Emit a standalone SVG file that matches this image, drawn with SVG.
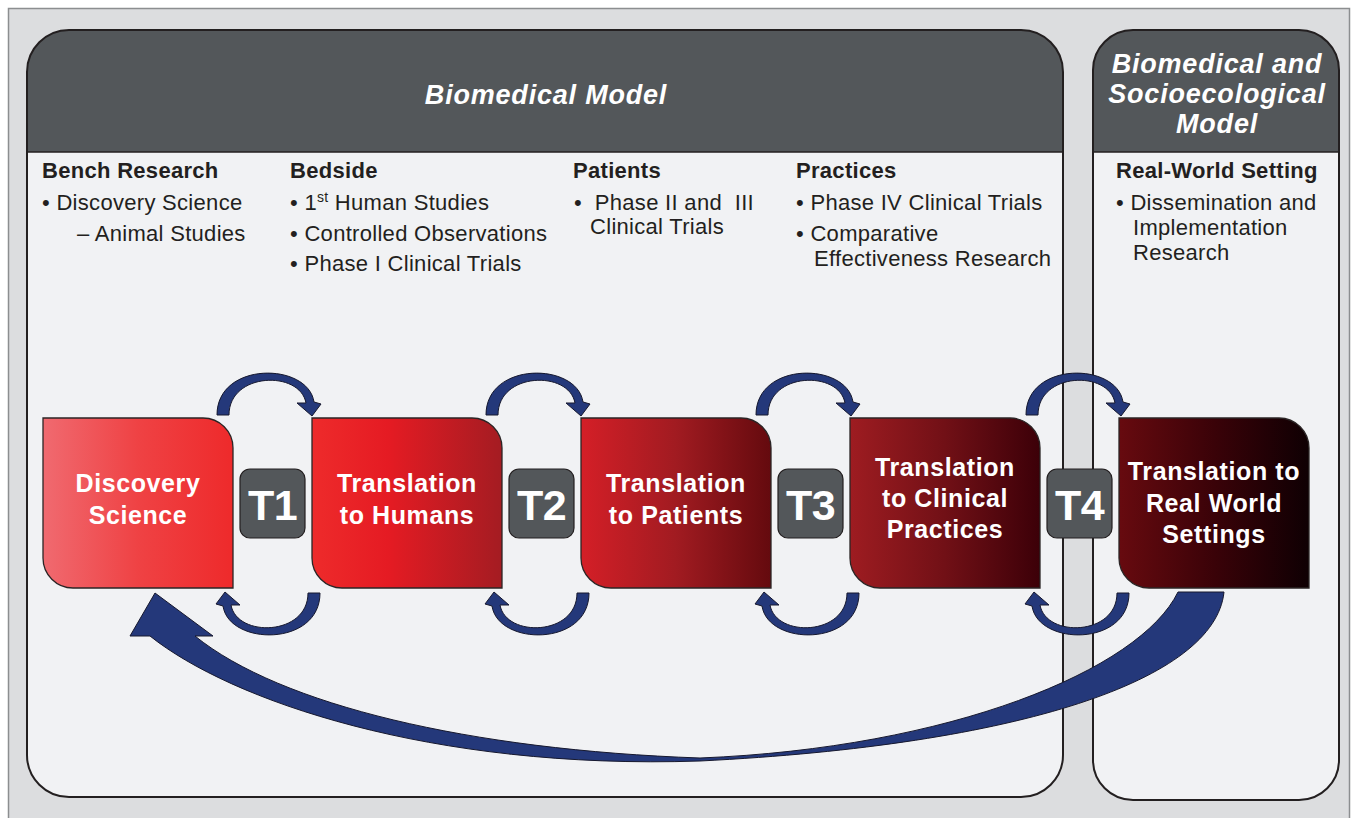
<svg xmlns="http://www.w3.org/2000/svg" width="1353" height="818" viewBox="0 0 1353 818">
  <style>
    .txt { font-family: "Liberation Sans", Arial, Helvetica, sans-serif; fill: #231f20; font-size: 22px; letter-spacing: 0.3px; }
    .head { font-weight: bold; }
    .title { font-family: "Liberation Sans", Arial, Helvetica, sans-serif; fill: #ffffff; font-weight: bold; font-style: italic; font-size: 27px; letter-spacing: 0.8px; text-anchor: middle; }
    .node-label { font-family: "Liberation Sans", Arial, Helvetica, sans-serif; fill: #ffffff; font-weight: bold; font-size: 25px; letter-spacing: 0.6px; text-anchor: middle; }
    .tbox { fill: #53575a; stroke: #231f20; stroke-width: 1.2; }
    .tlabel { font-family: "Liberation Sans", Arial, Helvetica, sans-serif; fill: #ffffff; font-weight: bold; font-size: 43px; text-anchor: middle; letter-spacing: -0.5px; }
    .node-shape { stroke: #2b2525; stroke-width: 1.3; }
    .loop { fill: #24387a; stroke: #16182e; stroke-width: 1; }
    .panel { fill: #f1f2f4; }
    .panel-head { fill: #53575a; }
    .panel-edge { fill: none; stroke: #231f20; stroke-width: 2; }
  </style>
  <defs>
    <linearGradient id="g1" x1="0" y1="0" x2="1" y2="0">
      <stop offset="0" stop-color="#f06a70"/>
      <stop offset="0.5" stop-color="#ef4244"/>
      <stop offset="1" stop-color="#ee2a2b"/>
    </linearGradient>
    <linearGradient id="g2" x1="0" y1="0" x2="1" y2="0">
      <stop offset="0" stop-color="#ee2b2b"/>
      <stop offset="0.4" stop-color="#e51b23"/>
      <stop offset="1" stop-color="#a41c22"/>
    </linearGradient>
    <linearGradient id="g3" x1="0" y1="0" x2="1" y2="0">
      <stop offset="0" stop-color="#d41f27"/>
      <stop offset="0.5" stop-color="#a11b21"/>
      <stop offset="1" stop-color="#640a0e"/>
    </linearGradient>
    <linearGradient id="g4" x1="0" y1="0" x2="1" y2="0">
      <stop offset="0" stop-color="#9e1c21"/>
      <stop offset="0.5" stop-color="#711016"/>
      <stop offset="1" stop-color="#3c0008"/>
    </linearGradient>
    <linearGradient id="g5" x1="0" y1="0" x2="1" y2="0">
      <stop offset="0" stop-color="#670a0f"/>
      <stop offset="0.5" stop-color="#3a0208"/>
      <stop offset="1" stop-color="#0f0003"/>
    </linearGradient>
    <!-- arched arrow over a gap, pointing right/down into the next stage -->
    <path id="arch" d="M217,415 C217,361 308,362 314,402 L321,404 L312,416 L297,403 L306,403 C300,370 229,372 229,415 Z"/>
  </defs>

  <!-- outer frame -->
  <rect x="8.5" y="8.5" width="1341" height="830" fill="#dcdddf" stroke="#8c8e90" stroke-width="1.5"/>

  <!-- Biomedical Model panel -->
  <g id="panel-biomedical">
    <rect class="panel" x="27" y="30" width="1036" height="767" rx="42" ry="42"/>
    <path class="panel-head" d="M27,152 V72 A42,42 0 0 1 69,30 H1021 A42,42 0 0 1 1063,72 V152 Z"/>
    <line x1="27" y1="152" x2="1063" y2="152" stroke="#231f20" stroke-width="1.5"/>
    <rect class="panel-edge" x="27" y="30" width="1036" height="767" rx="42" ry="42"/>
    <text class="title" x="546" y="104">Biomedical Model</text>
  </g>

  <!-- Biomedical and Socioecological Model panel -->
  <g id="panel-socioecological">
    <rect class="panel" x="1093" y="30" width="246" height="770" rx="40" ry="40"/>
    <path class="panel-head" d="M1093,152 V70 A40,40 0 0 1 1133,30 H1299 A40,40 0 0 1 1339,70 V152 Z"/>
    <line x1="1093" y1="152" x2="1339" y2="152" stroke="#231f20" stroke-width="1.5"/>
    <rect class="panel-edge" x="1093" y="30" width="246" height="770" rx="40" ry="40"/>
    <text class="title" x="1217" y="73">Biomedical and</text>
    <text class="title" x="1217" y="103">Socioecological</text>
    <text class="title" x="1217" y="133">Model</text>
  </g>

  <!-- research descriptions -->
  <g id="col-bench">
    <text class="txt head" x="42" y="178">Bench Research</text>
    <text class="txt" x="42" y="210">• Discovery Science</text>
    <text class="txt" x="77" y="241">– Animal Studies</text>
  </g>
  <g id="col-bedside">
    <text class="txt head" x="290" y="178">Bedside</text>
    <text class="txt" x="290" y="210">• 1<tspan font-size="14" dy="-8">st</tspan><tspan dy="8"> Human Studies</tspan></text>
    <text class="txt" x="290" y="241">• Controlled Observations</text>
    <text class="txt" x="290" y="271">• Phase I Clinical Trials</text>
  </g>
  <g id="col-patients">
    <text class="txt head" x="573" y="178">Patients</text>
    <text class="txt" x="574" y="210" xml:space="preserve">•  Phase II and  III</text>
    <text class="txt" x="590" y="234">Clinical Trials</text>
  </g>
  <g id="col-practices">
    <text class="txt head" x="796" y="178">Practices</text>
    <text class="txt" x="796" y="210">• Phase IV Clinical Trials</text>
    <text class="txt" x="796" y="241">• Comparative</text>
    <text class="txt" x="814" y="266">Effectiveness Research</text>
  </g>
  <g id="col-realworld">
    <text class="txt head" x="1116" y="178">Real-World Setting</text>
    <text class="txt" x="1116" y="210">• Dissemination and</text>
    <text class="txt" x="1133" y="235">Implementation</text>
    <text class="txt" x="1133" y="260">Research</text>
  </g>

  <!-- stages -->
  <g id="node-discovery">
    <path class="node-shape" fill="url(#g1)" d="M43,418 H203 A30,30 0 0 1 233,448 V588 H73 A30,30 0 0 1 43,558 Z"/>
    <text class="node-label" x="138" y="492">Discovery</text>
    <text class="node-label" x="138" y="524">Science</text>
  </g>
  <g id="node-humans">
    <path class="node-shape" fill="url(#g2)" d="M312,418 H472 A30,30 0 0 1 502,448 V588 H342 A30,30 0 0 1 312,558 Z"/>
    <text class="node-label" x="407" y="492">Translation</text>
    <text class="node-label" x="407" y="524">to Humans</text>
  </g>
  <g id="node-patients">
    <path class="node-shape" fill="url(#g3)" d="M581,418 H741 A30,30 0 0 1 771,448 V588 H611 A30,30 0 0 1 581,558 Z"/>
    <text class="node-label" x="676" y="492">Translation</text>
    <text class="node-label" x="676" y="524">to Patients</text>
  </g>
  <g id="node-practices">
    <path class="node-shape" fill="url(#g4)" d="M850,418 H1010 A30,30 0 0 1 1040,448 V588 H880 A30,30 0 0 1 850,558 Z"/>
    <text class="node-label" x="945" y="476">Translation</text>
    <text class="node-label" x="945" y="507">to Clinical</text>
    <text class="node-label" x="945" y="538">Practices</text>
  </g>
  <g id="node-realworld">
    <path class="node-shape" fill="url(#g5)" d="M1119,418 H1279 A30,30 0 0 1 1309,448 V588 H1149 A30,30 0 0 1 1119,558 Z"/>
    <text class="node-label" x="1214" y="480">Translation to</text>
    <text class="node-label" x="1214" y="512">Real World</text>
    <text class="node-label" x="1214" y="543">Settings</text>
  </g>

  <!-- connectors -->
  <g id="connectors">
    <use href="#arch" class="loop"/>
    <use href="#arch" class="loop" transform="rotate(180 268.5 504)"/>
    <use href="#arch" class="loop" transform="translate(269 0)"/>
    <use href="#arch" class="loop" transform="translate(269 0) rotate(180 268.5 504)"/>
    <use href="#arch" class="loop" transform="translate(539 0)"/>
    <use href="#arch" class="loop" transform="translate(539 0) rotate(180 268.5 504)"/>
    <use href="#arch" class="loop" transform="translate(809 0)"/>
    <use href="#arch" class="loop" transform="translate(809 0) rotate(180 268.5 504)"/>
    <!-- long feedback arrow back to discovery -->
    <path class="loop" d="M1178,592 L1224,592 C1215,680 1020,745 700,761 C430,770 230,700 150,636 L130,636 L155,593 L213,636 L195,636 C280,705 470,750 700,758 C950,748 1140,670 1178,592 Z"/>
  </g>

  <!-- translational phases -->
  <g id="t1">
    <rect class="tbox" x="240" y="469" width="65" height="69" rx="10"/>
    <text class="tlabel" x="272.5" y="520">T1</text>
  </g>
  <g id="t2">
    <rect class="tbox" x="509" y="469" width="65" height="69" rx="10"/>
    <text class="tlabel" x="541.5" y="520">T2</text>
  </g>
  <g id="t3">
    <rect class="tbox" x="778" y="469" width="65" height="69" rx="10"/>
    <text class="tlabel" x="810.5" y="520">T3</text>
  </g>
  <g id="t4">
    <rect class="tbox" x="1047" y="469" width="65" height="69" rx="10"/>
    <text class="tlabel" x="1079.5" y="520">T4</text>
  </g>
</svg>
